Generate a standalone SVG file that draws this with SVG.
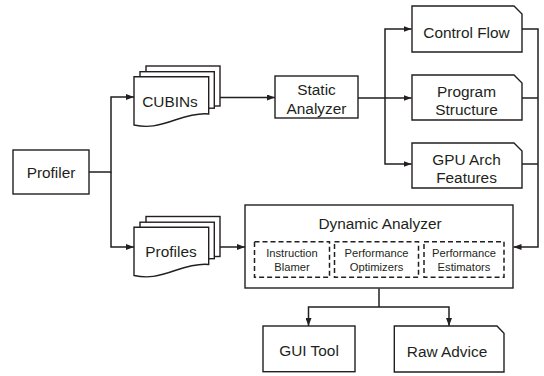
<svg xmlns="http://www.w3.org/2000/svg" width="544" height="376" viewBox="0 0 544 376">
<style>
.box{fill:#fff;stroke:#231f20;stroke-width:1.4}
.dash{fill:none;stroke:#231f20;stroke-width:1.5;stroke-dasharray:5 3}
.t{font-family:"Liberation Sans",Arial,sans-serif;font-size:15.4px;fill:#231f20;text-anchor:middle}
.s{font-family:"Liberation Sans",Arial,sans-serif;font-size:11.2px;fill:#231f20;text-anchor:middle}
.c{fill:none;stroke:#231f20;stroke-width:1.5}
.a{marker-end:url(#ah)}
</style>
<defs>
<marker id="ah" viewBox="0 0 8 6" refX="8" refY="3" markerWidth="8" markerHeight="6" markerUnits="userSpaceOnUse" orient="auto">
<path d="M0,0 L8,3 L0,6 Z" fill="#231f20"/>
</marker>
<g id="docstack">
<rect class="box" x="146" y="66" width="74" height="40"/>
<rect class="box" x="140" y="71.7" width="74.3" height="36.5"/>
<path class="box" d="M134,76.7 H208.7 V114 C200,113 190,115 175,120 C158,126 148,128 134,125 Z"/>
</g>
</defs>
<rect width="544" height="376" fill="#fff"/>
<g id="connectors">
<path class="c a" d="M89,172 H111 V97 H134"/>
<path class="c a" d="M111,172 V247 H134"/>
<path class="c a" d="M220,97.5 H275"/>
<path class="c a" d="M358,98 H385 V29 H411.5"/>
<path class="c a" d="M385,98 H411.5"/>
<path class="c a" d="M385,98 V164 H411.5"/>
<path class="c" d="M522,98 H538"/>
<path class="c" d="M522,164 H538"/>
<path class="c a" d="M522,29 H538 V247 H513.5"/>
<path class="c a" d="M220,247 H245"/>
<path class="c" d="M379,288.5 V307"/>
<path class="c a" d="M379,307 H308.5 V326"/>
<path class="c a" d="M379,307 H449 V326"/>
</g>
<g id="profiler">
<rect class="box" x="13" y="150" width="76" height="44"/>
<text class="t" x="51" y="177.5">Profiler</text>
</g>
<g id="cubins">
<use href="#docstack"/>
<text class="t" x="170" y="107">CUBINs</text>
</g>
<g id="profiles">
<use href="#docstack" transform="translate(0,150.5)"/>
<text class="t" x="171" y="257">Profiles</text>
</g>
<g id="static-analyzer">
<rect class="box" x="275" y="76" width="83" height="42"/>
<text class="t" x="316.5" y="94.5">Static</text>
<text class="t" x="316.5" y="113.5">Analyzer</text>
</g>
<g id="control-flow">
<path class="box" d="M412,6 H514 L522,14 V52 H412 Z"/>
<text class="t" x="466.5" y="38">Control Flow</text>
</g>
<g id="program-structure">
<path class="box" d="M412,75 H514 L522,83 V120 H412 Z"/>
<text class="t" x="466.5" y="96.5">Program</text>
<text class="t" x="466.5" y="114.5">Structure</text>
</g>
<g id="gpu-arch">
<path class="box" d="M412,143 H514 L522,151 V188 H412 Z"/>
<text class="t" x="466.5" y="164.5">GPU Arch</text>
<text class="t" x="466.5" y="182.5">Features</text>
</g>
<g id="dynamic-analyzer">
<rect class="box" x="245" y="205" width="268" height="83"/>
<text class="t" x="380" y="229">Dynamic Analyzer</text>
<rect class="dash" x="254.5" y="241.7" width="75" height="35.6"/>
<rect class="dash" x="334.5" y="241.7" width="84" height="35.6"/>
<rect class="dash" x="424" y="241.7" width="80" height="35.6"/>
<text class="s" x="292" y="257.3">Instruction</text>
<text class="s" x="292" y="271">Blamer</text>
<text class="s" x="376.5" y="257.3">Performance</text>
<text class="s" x="376.5" y="271">Optimizers</text>
<text class="s" x="464" y="257.3">Performance</text>
<text class="s" x="464" y="271">Estimators</text>
</g>
<g id="gui-tool">
<rect class="box" x="263" y="326" width="92" height="45.7"/>
<text class="t" x="309" y="355.5">GUI Tool</text>
</g>
<g id="raw-advice">
<path class="box" d="M394.3,326 H497 L504,333.3 V372 H394.3 Z"/>
<text class="t" x="447" y="357">Raw Advice</text>
</g>
</svg>
